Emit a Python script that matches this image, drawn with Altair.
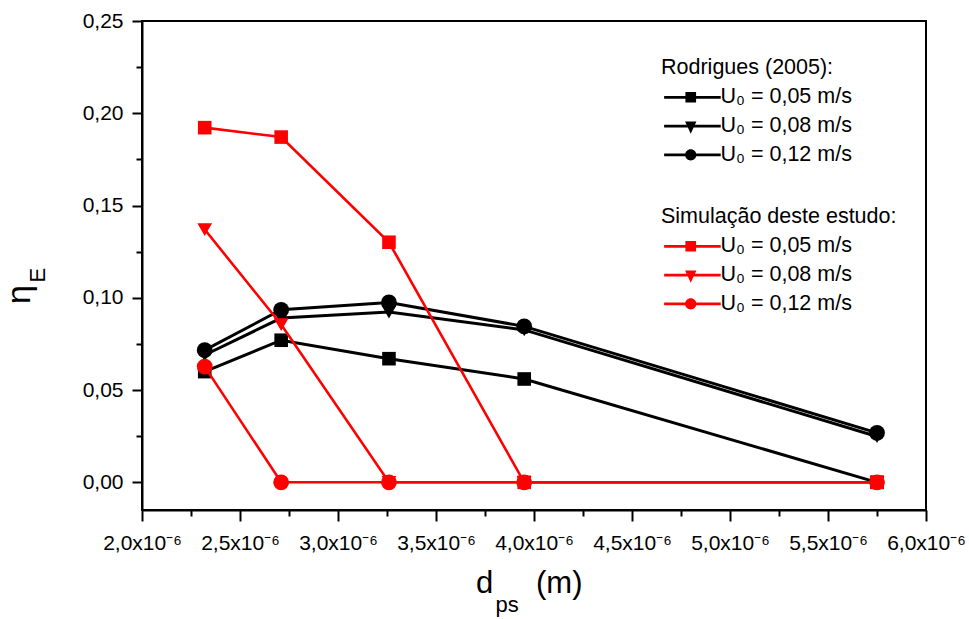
import altair as alt
import pandas as pd

FONT = "Liberation Sans"

# ---------------- data ----------------
d_ps = [2.32e-6, 2.71e-6, 3.26e-6, 3.95e-6, 5.75e-6]
speed_labels = ["U₀ = 0,05 m/s", "U₀ = 0,08 m/s", "U₀ = 0,12 m/s"]

rodrigues_005 = [0.060, 0.077, 0.067, 0.056, 0.000]
rodrigues_008 = [0.069, 0.089, 0.0923, 0.0826, 0.0248]
rodrigues_012 = [0.0716, 0.0935, 0.0975, 0.0845, 0.0268]

simulacao_005 = [0.1922, 0.1871, 0.1301, 0.000, 0.000]
simulacao_008 = [0.137, 0.0855, 0.000, 0.000, 0.000]
simulacao_012 = [0.0627, 0.000, 0.000, 0.000, 0.000]

group_names = ["Rodrigues (2005):", "Simulação deste estudo:"]

x_tick_values = [2.0e-6, 2.25e-6, 2.5e-6, 2.75e-6, 3.0e-6, 3.25e-6, 3.5e-6, 3.75e-6,
                 4.0e-6, 4.25e-6, 4.5e-6, 4.75e-6, 5.0e-6, 5.25e-6, 5.5e-6, 5.75e-6, 6.0e-6]
y_tick_values = [0.0, 0.025, 0.05, 0.075, 0.10, 0.125, 0.15, 0.175, 0.20, 0.225, 0.25]

x_title_main = "d"
x_title_sub = "ps"
x_title_unit = "(m)"
y_title_main = "η"
y_title_sub = "E"

rows = []
for grp, series in [(group_names[0], [rodrigues_005, rodrigues_008, rodrigues_012]),
                    (group_names[1], [simulacao_005, simulacao_008, simulacao_012])]:
    for sp, vals in zip(speed_labels, series):
        for x, v in zip(d_ps, vals):
            rows.append({"d": x, "eta": v, "group": grp, "speed": sp})
df = pd.DataFrame(rows)

# ---------------- scales / axes ----------------
x_major = "abs(datum.value*2e6 - round(datum.value*2e6)) < 1e-3"
y_major = "abs(datum.value*20 - round(datum.value*20)) < 1e-3"

x_scale = alt.Scale(domain=[2e-6, 6e-6], nice=False, zero=False)
y_scale = alt.Scale(domain=[-0.015, 0.25], nice=False, zero=False)

x_axis = alt.Axis(
    values=x_tick_values, title=None, grid=False,
    labelExpr=f"{x_major} ? replace(format(datum.value*1e6, '.1f'), '.', ',') + 'x10⁻⁶' : ''",
    labelFont=FONT, labelFontSize=21, labelColor="black", labelPadding=11,
    labelFlush=False, labelOverlap=False, labelBound=False,
    tickSize={"condition": {"test": x_major, "value": 11}, "value": 6},
    tickWidth=2, tickColor="black", domainWidth=2, domainColor="black",
)
y_axis = alt.Axis(
    values=y_tick_values, title=None, grid=False,
    labelExpr=f"{y_major} ? replace(format(datum.value, '.2f'), '.', ',') : ''",
    labelFont=FONT, labelFontSize=21, labelColor="black", labelPadding=9,
    labelOverlap=False,
    tickSize={"condition": {"test": y_major, "value": 10}, "value": 6},
    tickWidth=2, tickColor="black", domainWidth=2, domainColor="black",
)

X = alt.X("d:Q", scale=x_scale, axis=x_axis)
Y = alt.Y("eta:Q", scale=y_scale, axis=y_axis)

point_shape = alt.Shape("speed:N", scale=alt.Scale(domain=speed_labels,
                        range=["square", "triangle-down", "circle"]), legend=None)
point_size = alt.Size("speed:N", scale=alt.Scale(domain=speed_labels,
                      range=[185, 250, 180]), legend=None)

base = alt.Chart(df)


def series_layers(grp, color, width):
    sub = base.transform_filter(alt.datum.group == grp)
    line = sub.mark_line(color=color, strokeWidth=width).encode(x=X, y=Y, detail="speed:N")
    pts = sub.mark_point(color=color, filled=True, opacity=1).encode(
        x=X, y=Y, shape=point_shape, size=point_size)
    return [line, pts]


# legend symbols: a line stub with the marker in its middle
legend_paths = [
    "M-4.84,-0.25H5.45V0.25H-4.84Z M-0.97,-0.97H0.97V0.97H-0.97Z",
    "M-4.84,-0.25H5.45V0.25H-4.84Z M-1.03,-0.84L1.03,-0.84L0,1.4Z",
    "M-4.84,-0.25H5.45V0.25H-4.84Z M-1.03,0A1.03,1.03,0,1,1,1.03,0A1.03,1.03,0,1,1,-1.03,0Z",
]


def legend_layer(grp, color, ly):
    leg = alt.Legend(
        title=grp, orient="none", legendX=519, legendY=ly,
        titleFont=FONT, titleFontSize=21.5, titleFontWeight="normal", titleColor="black",
        titleLimit=400, titlePadding=8.5,
        labelFont=FONT, labelFontSize=21.5, labelColor="black", labelLimit=300,
        symbolSize=121, symbolStrokeWidth=0, symbolOffset=19, labelOffset=19,
        symbolOpacity=1, symbolFillColor=color, rowPadding=5.8, padding=0,
    )
    return base.transform_filter("false").mark_point(
        color=color, filled=True, opacity=1, size=121).encode(
        x=X, y=Y,
        shape=alt.Shape("speed:N", scale=alt.Scale(domain=speed_labels, range=legend_paths),
                        legend=leg))


def text_layer(txt, x, y, size, angle=0):
    return alt.Chart(pd.DataFrame({"t": [txt]})).mark_text(
        align="left", baseline="alphabetic", font=FONT, fontSize=size,
        color="black", angle=angle).encode(text="t:N", x=alt.value(x), y=alt.value(y))


layers = []
layers += series_layers(group_names[0], "black", 3)
layers += series_layers(group_names[1], "#ff0000", 2.6)
layers.append(legend_layer(group_names[0], "black", 35.5))
layers.append(legend_layer(group_names[1], "#ff0000", 184.5))
layers += [
    text_layer(x_title_main, 334, 572, 31),
    text_layer(x_title_sub, 353.5, 590.5, 22),
    text_layer(x_title_unit, 394, 572, 31),
    text_layer(y_title_main, -112, 283, 34, angle=270),
    text_layer(y_title_sub, -97, 261.5, 22, angle=270),
]

chart = alt.layer(*layers).resolve_scale(shape="independent", size="independent").properties(
    width=784, height=489,
    autosize=alt.AutoSizeParams(type="none"),
    padding={"left": 142, "top": 21, "right": 43, "bottom": 109},
).configure_view(stroke="black", strokeWidth=2)

chart.save("out.html", embed_options={"renderer": "svg", "actions": False})
